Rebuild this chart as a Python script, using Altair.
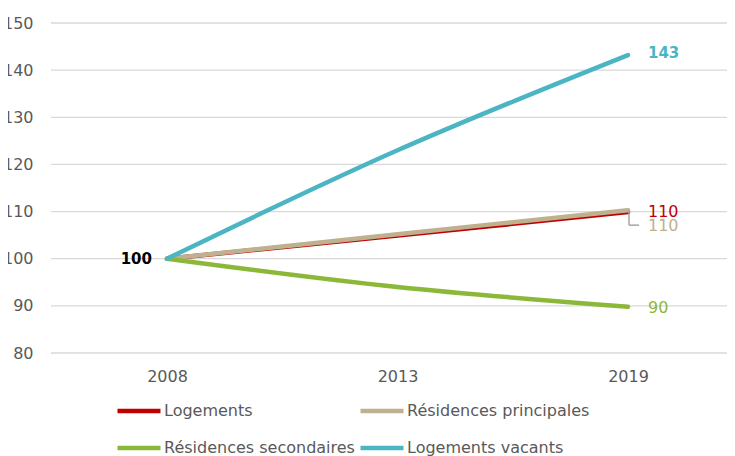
import altair as alt
import pandas as pd

years = ["2008", "2013", "2019"]
series_names = ["Logements", "Résidences principales", "Résidences secondaires", "Logements vacants"]
logements = [100, 104.9, 109.9]
res_principales = [100, 105.2, 110.3]
res_secondaires = [100, 94.0, 89.8]
log_vacants = [100, 123.0, 143.2]
palette = ["#c00000", "#bfb08f", "#8cb83a", "#4bb5c4"]
y_ticks = [80, 90, 100, 110, 120, 130, 140, 150]
title_text = "Source : INSEE RP 2019"

FONT = "DejaVu Sans"
GREY = "#595959"
W, H = 676, 330

rows = []
for name, vals in zip(series_names, [logements, res_principales, res_secondaires, log_vacants]):
    for yr, v in zip(years, vals):
        rows.append({"serie": name, "annee": yr, "indice": v, "label": str(int(round(v)))})
df = pd.DataFrame(rows)
grid_df = pd.DataFrame({"indice": y_ticks})

x_enc = alt.X("annee:N", sort=years,
              scale=alt.Scale(type="point", range=[116, 577], padding=0),
              axis=alt.Axis(title=None, labelAngle=0, ticks=False, domain=False, grid=False,
                            labelPadding=15, labelFontSize=16, labelColor=GREY,
                            labelFont=FONT))
y_scale = alt.Scale(domain=[80, 150], nice=False, zero=False)
y_enc = alt.Y("indice:Q", scale=y_scale,
              axis=alt.Axis(title=None, values=y_ticks, grid=False, domain=False,
                            ticks=False, labelPadding=18, labelFontSize=16,
                            labelColor=GREY, labelFont=FONT))

grid = alt.Chart(grid_df).mark_rule(color="#d9d9d9", strokeWidth=1.3).encode(
    y=alt.Y("indice:Q", scale=y_scale), x=alt.value(0), x2=alt.value(W))

base = alt.Chart(df)

lines = base.mark_line(strokeWidth=4.5, interpolate="catmull-rom", strokeCap="round").encode(
    x=x_enc, y=y_enc,
    color=alt.Color("serie:N", sort=series_names,
                    scale=alt.Scale(domain=series_names, range=palette),
                    legend=alt.Legend(orient="none", legendX=64, legendY=364, columns=2,
                                      direction="horizontal",
                                      title=None, symbolType="stroke", symbolSize=1849,
                                      symbolStrokeWidth=4.5, labelFontSize=16,
                                      labelColor=GREY, labelFont=FONT, labelOffset=1,
                                      columnPadding=-4, rowPadding=4, padding=0,
                                      labelLimit=400)),
    detail="serie:N",
)

end = base.transform_filter(alt.datum.annee == "2019")

def end_label(name, color, dy, weight="normal", size=16):
    return end.transform_filter(alt.datum.serie == name).mark_text(
        align="left", baseline="middle", dx=20, dy=dy, fontSize=size,
        fontWeight=weight, font=FONT, color=color
    ).encode(x=alt.X("annee:N", sort=years), y="indice:Q", text="label:N")

lab_log = end_label(series_names[0], palette[0], 0)
lab_rp = end_label(series_names[1], palette[1], 16)
lab_rs = end_label(series_names[2], palette[2], 1)
lab_lv = end_label(series_names[3], palette[3], -2, weight="bold", size=15)

rp_end = end.transform_filter(alt.datum.serie == series_names[1])
leader_v = rp_end.mark_rule(color="#a6a6a6", strokeWidth=1.5, xOffset=1, x2Offset=1, y2Offset=15).encode(
    x=alt.X("annee:N", sort=years), y="indice:Q", y2=alt.Y2("indice:Q"))
leader_h = rp_end.mark_rule(color="#a6a6a6", strokeWidth=1.5, xOffset=1, x2Offset=11, yOffset=15, y2Offset=15).encode(
    x=alt.X("annee:N", sort=years), x2=alt.X2("annee:N"), y="indice:Q")

start = base.transform_filter(
    (alt.datum.annee == "2008") & (alt.datum.serie == series_names[0])
).mark_text(align="right", baseline="middle", dx=-15, fontSize=15, fontWeight="bold",
            font=FONT, color="black").encode(
    x=alt.X("annee:N", sort=years), y="indice:Q", text="label:N")

chart = alt.layer(grid, lines, leader_v, leader_h, lab_log, lab_rp, lab_rs, lab_lv, start).properties(
    width=W, height=H,
    title=alt.TitleParams(title_text, font=FONT, fontSize=16, fontStyle="italic",
                          fontWeight="normal", color="black", anchor="middle",
                          frame="group", offset=17, dx=-19),
    autosize=alt.AutoSizeParams(type="none"),
    padding={"left": 43, "top": 15, "right": 0, "bottom": 103},
).configure_view(strokeWidth=0)

chart.save("out.html", embed_options={"renderer": "svg", "actions": False})
